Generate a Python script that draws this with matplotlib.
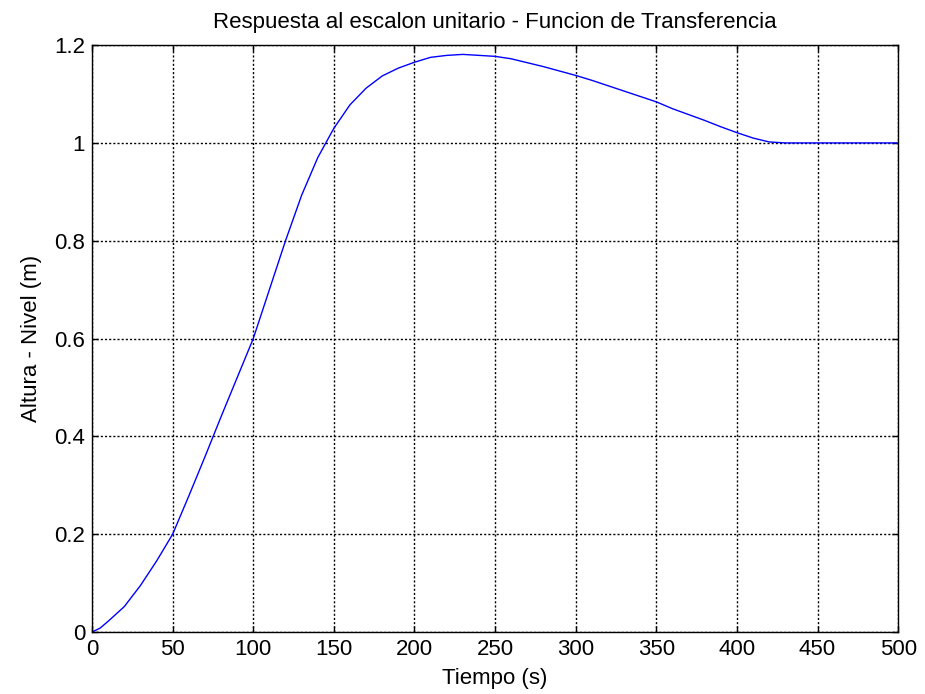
import matplotlib
matplotlib.use("Agg")
import matplotlib.pyplot as plt

plt.rcParams["font.family"] = ["Liberation Sans", "DejaVu Sans"]

# step response (time in s, level in m)
tiempo = [0, 5, 10, 20, 30, 40, 50, 60, 70, 80, 90, 100, 110, 120, 130, 140,
          150, 160, 170, 180, 190, 200, 210, 220, 230, 240, 250, 260, 270,
          280, 290, 300, 310, 320, 330, 340, 350, 360, 370, 380, 390, 400,
          410, 420, 430, 500]
nivel = [0.0, 0.008, 0.022, 0.052, 0.095, 0.145, 0.2, 0.278, 0.358, 0.44,
         0.52, 0.6, 0.7, 0.8, 0.893, 0.97, 1.03, 1.078, 1.112, 1.137,
         1.153, 1.165, 1.175, 1.179, 1.181, 1.179, 1.177, 1.172, 1.164, 1.156,
         1.147, 1.138, 1.128, 1.117, 1.106, 1.095, 1.084, 1.07, 1.058, 1.046,
         1.033, 1.021, 1.01, 1.002, 1.0, 1.0]

xticks = list(range(0, 501, 50))
yticks = [0, 0.2, 0.4, 0.6, 0.8, 1, 1.2]
ytick_labels = ["0", "0.2", "0.4", "0.6", "0.8", "1", "1.2"]

fig = plt.figure(figsize=(9.25, 6.94), dpi=100)
ax = fig.add_axes([0.0995, 0.0893, 0.8715, 0.8457])

ax.plot(tiempo, nivel, color="#0000ff", linewidth=1.0)

ax.set_xlim(0, 500)
ax.set_ylim(0, 1.2)
ax.set_xticks(xticks)
ax.set_yticks(yticks)
ax.set_yticklabels(ytick_labels)

# matlab style: dotted grid, inward ticks on all sides
ax.grid(True, color="black", linestyle=(0, (1.5, 1.5)), linewidth=1.0)
ax.tick_params(direction="in", length=4, width=1, top=True, right=True,
               labelsize=16, pad=5)
for s in ax.spines.values():
    s.set_color("black")
    s.set_linewidth(1.0)

ax.set_title("Respuesta al escalon unitario - Funcion de Transferencia",
             fontsize=16, pad=12)
ax.set_xlabel("Tiempo (s)", fontsize=16, labelpad=6)
ax.set_ylabel("Altura - Nivel (m)", fontsize=16, labelpad=9)

fig.savefig("out.png", dpi=100)
